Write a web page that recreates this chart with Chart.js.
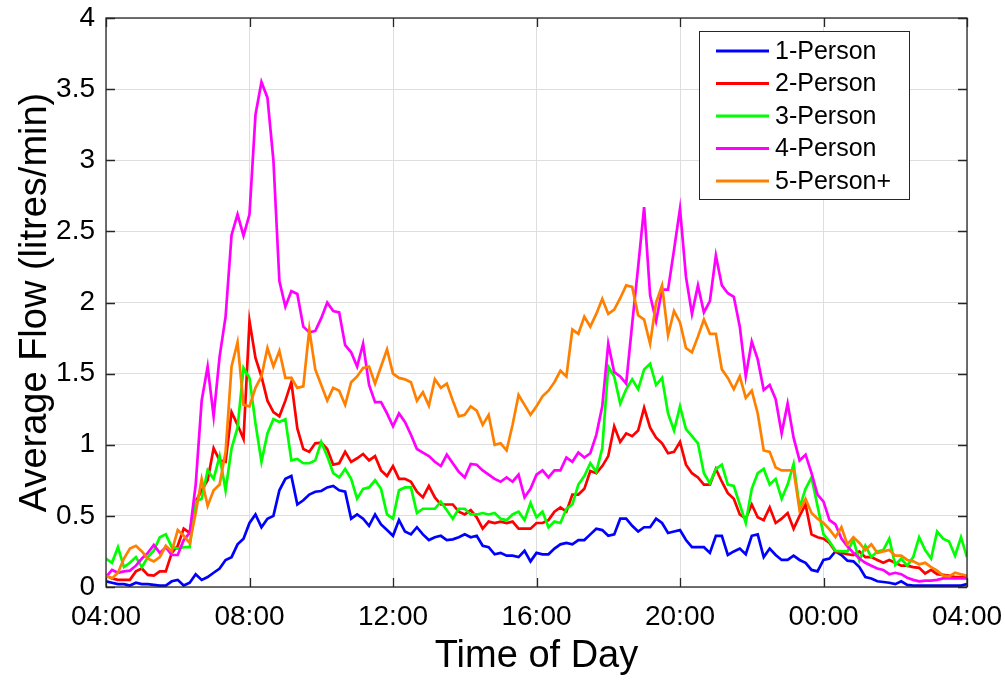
<!DOCTYPE html>
<html>
<head>
<meta charset="utf-8">
<title>Average Flow by Household Size</title>
<script src="https://cdn.jsdelivr.net/npm/chart.js@4.4.0/dist/chart.umd.min.js"></script>
<style>
  html, body { margin: 0; padding: 0; background: #fff; }
  #wrap { width: 1005px; height: 680px; }
</style>
</head>
<body>
<div id="wrap"><canvas id="flowChart" width="1005" height="680"></canvas></div>
<script>
// x tick labels (every 4 hours, starting 04:00)
const tickLabels = ['04:00', '08:00', '12:00', '16:00', '20:00', '00:00', '04:00'];
const seriesNames = ['1-Person', '2-Person', '3-Person', '4-Person', '5-Person+'];
const seriesColors = ['#0000ff', '#ff0000', '#00ff00', '#ff00ff', '#ff8000'];

// 10-minute samples from 04:00 to 04:00 (one row = 2 hours)
const person1 = [
  0.04, 0.03, 0.02, 0.02, 0.01, 0.03, 0.02, 0.02, 0.015, 0.01, 0.01, 0.04,
  0.05, 0.01, 0.03, 0.09, 0.05, 0.07, 0.10, 0.13, 0.19, 0.21, 0.30, 0.34,
  0.45, 0.51, 0.42, 0.48, 0.50, 0.68, 0.76, 0.78, 0.58, 0.61, 0.65, 0.67,
  0.675, 0.70, 0.71, 0.68, 0.67, 0.48, 0.51, 0.48, 0.43, 0.51, 0.44, 0.40,
  0.36, 0.47, 0.39, 0.37, 0.42, 0.37, 0.33, 0.35, 0.36, 0.33, 0.335, 0.35,
  0.37, 0.35, 0.36, 0.29, 0.28, 0.23, 0.24, 0.22, 0.22, 0.21, 0.255, 0.18,
  0.24, 0.23, 0.23, 0.27, 0.30, 0.31, 0.30, 0.33, 0.33, 0.37, 0.41, 0.40,
  0.36, 0.37, 0.48, 0.48, 0.43, 0.39, 0.42, 0.42, 0.48, 0.45, 0.38, 0.39,
  0.40, 0.33, 0.28, 0.28, 0.28, 0.24, 0.36, 0.36, 0.225, 0.25, 0.27, 0.23,
  0.36, 0.37, 0.21, 0.27, 0.225, 0.19, 0.19, 0.22, 0.19, 0.17, 0.12, 0.11,
  0.19, 0.20, 0.25, 0.225, 0.185, 0.18, 0.14, 0.07, 0.06, 0.04, 0.035, 0.03,
  0.02, 0.04, 0.015, 0.01, 0.01, 0.01, 0.01, 0.01, 0.01, 0.01, 0.01, 0.01,
  0.02
];
const person2 = [
  0.08, 0.06, 0.05, 0.05, 0.05, 0.11, 0.13, 0.085, 0.08, 0.11, 0.11, 0.24,
  0.29, 0.41, 0.38, 0.60, 0.68, 0.75, 0.975, 0.89, 0.88, 1.23, 1.14, 1.04,
  1.87, 1.61, 1.48, 1.31, 1.23, 1.20, 1.31, 1.44, 1.115, 0.97, 0.95, 1.01,
  1.015, 0.97, 0.86, 0.87, 0.95, 0.88, 0.905, 0.935, 0.89, 0.92, 0.82, 0.78,
  0.85, 0.76, 0.76, 0.74, 0.67, 0.63, 0.71, 0.63, 0.58, 0.58, 0.58, 0.53,
  0.51, 0.54, 0.49, 0.41, 0.46, 0.45, 0.46, 0.45, 0.46, 0.41, 0.41, 0.41,
  0.45, 0.45, 0.47, 0.53, 0.56, 0.53, 0.65, 0.65, 0.69, 0.815, 0.80, 0.85,
  0.92, 1.13, 1.02, 1.08, 1.06, 1.10, 1.26, 1.12, 1.05, 1.01, 0.94, 0.95,
  1.02, 0.86, 0.80, 0.77, 0.72, 0.72, 0.83, 0.74, 0.66, 0.62, 0.51, 0.48,
  0.58, 0.49, 0.47, 0.56, 0.45, 0.48, 0.52, 0.41, 0.50, 0.58, 0.37, 0.35,
  0.34, 0.31, 0.25, 0.24, 0.23, 0.225, 0.25, 0.21, 0.21, 0.19, 0.17, 0.19,
  0.17, 0.15, 0.15, 0.14, 0.135, 0.095, 0.12, 0.09, 0.085, 0.08, 0.07, 0.07,
  0.07
];
const person3 = [
  0.20, 0.17, 0.28, 0.14, 0.17, 0.21, 0.14, 0.21, 0.255, 0.35, 0.37, 0.28,
  0.27, 0.28, 0.28, 0.60, 0.62, 0.82, 0.76, 0.92, 0.68, 0.975, 1.12, 1.54,
  1.47, 1.15, 0.88, 1.08, 1.18, 1.16, 1.18, 0.89, 0.90, 0.87, 0.87, 0.89,
  1.02, 0.92, 0.80, 0.77, 0.83, 0.76, 0.62, 0.69, 0.70, 0.75, 0.69, 0.51,
  0.48, 0.68, 0.70, 0.70, 0.52, 0.55, 0.55, 0.55, 0.60, 0.54, 0.48, 0.55,
  0.55, 0.51, 0.51, 0.52, 0.51, 0.52, 0.48, 0.47, 0.51, 0.53, 0.47, 0.59,
  0.49, 0.53, 0.42, 0.46, 0.45, 0.55, 0.58, 0.72, 0.78, 0.87, 0.81, 0.975,
  1.55, 1.48, 1.29, 1.39, 1.46, 1.39, 1.53, 1.57, 1.42, 1.47, 1.22, 1.10,
  1.27, 1.11, 1.06, 1.01, 0.80, 0.73, 0.83, 0.86, 0.72, 0.71, 0.58, 0.45,
  0.69, 0.80, 0.83, 0.72, 0.76, 0.62, 0.72, 0.865, 0.56, 0.69, 0.77, 0.57,
  0.37, 0.32, 0.255, 0.25, 0.25, 0.33, 0.185, 0.29, 0.21, 0.25, 0.26, 0.34,
  0.155, 0.20, 0.15, 0.21, 0.35, 0.26, 0.20, 0.39, 0.34, 0.32, 0.22, 0.35,
  0.21
];
const person4 = [
  0.07, 0.12, 0.10, 0.11, 0.115, 0.15, 0.20, 0.24, 0.295, 0.24, 0.28, 0.225,
  0.225, 0.33, 0.38, 0.72, 1.31, 1.55, 1.20, 1.62, 1.90, 2.475, 2.62, 2.47,
  2.62, 3.32, 3.55, 3.44, 3.00, 2.15, 1.97, 2.08, 2.06, 1.83, 1.79, 1.80,
  1.89, 2.00, 1.94, 1.93, 1.70, 1.65, 1.55, 1.71, 1.42, 1.30, 1.30, 1.22,
  1.13, 1.22, 1.16, 1.07, 0.97, 0.945, 0.92, 0.88, 0.85, 0.93, 0.87, 0.81,
  0.77, 0.865, 0.86, 0.82, 0.79, 0.76, 0.74, 0.77, 0.74, 0.79, 0.63, 0.69,
  0.79, 0.82, 0.77, 0.82, 0.82, 0.91, 0.88, 0.945, 0.91, 0.94, 1.07, 1.27,
  1.71, 1.51, 1.48, 1.43, 1.85, 2.25, 2.67, 2.05, 1.87, 2.09, 2.09, 2.37,
  2.66, 2.18, 1.92, 2.12, 1.93, 2.01, 2.33, 2.12, 2.065, 2.04, 1.83, 1.48,
  1.725, 1.60, 1.385, 1.42, 1.32, 1.08, 1.29, 1.05, 0.89, 0.93, 0.80, 0.65,
  0.60, 0.47, 0.44, 0.34, 0.285, 0.24, 0.20, 0.17, 0.15, 0.13, 0.12, 0.09,
  0.10, 0.09, 0.065, 0.05, 0.04, 0.045, 0.045, 0.05, 0.06, 0.06, 0.06, 0.06,
  0.06
];
const person5 = [
  0.08, 0.06, 0.10, 0.20, 0.27, 0.29, 0.25, 0.20, 0.18, 0.21, 0.29, 0.25,
  0.40, 0.36, 0.31, 0.52, 0.76, 0.57, 0.68, 0.72, 0.95, 1.55, 1.72, 1.28,
  1.27, 1.40, 1.48, 1.68, 1.55, 1.66, 1.47, 1.47, 1.40, 1.41, 1.81, 1.53,
  1.42, 1.31, 1.40, 1.38, 1.28, 1.44, 1.48, 1.54, 1.55, 1.43, 1.55, 1.67,
  1.50, 1.47, 1.46, 1.44, 1.31, 1.37, 1.275, 1.46, 1.40, 1.43, 1.31, 1.20,
  1.21, 1.27, 1.24, 1.14, 1.21, 1.00, 1.01, 0.96, 1.14, 1.35, 1.28, 1.21,
  1.27, 1.34, 1.38, 1.44, 1.52, 1.48, 1.81, 1.78, 1.90, 1.83, 1.92, 2.025,
  1.92, 1.95, 2.03, 2.12, 2.11, 1.91, 1.88, 1.71, 2.00, 2.12, 1.77, 1.94,
  1.86, 1.68, 1.65, 1.76, 1.88, 1.78, 1.78, 1.53, 1.47, 1.39, 1.48, 1.33,
  1.38, 1.22, 0.96, 0.95, 0.84, 0.82, 0.82, 0.82, 0.54, 0.62, 0.52, 0.48,
  0.45, 0.405, 0.35, 0.42, 0.30, 0.35, 0.31, 0.26, 0.30, 0.24, 0.25, 0.26,
  0.22, 0.22, 0.19, 0.18, 0.16, 0.17, 0.14, 0.115, 0.08, 0.075, 0.10, 0.09,
  0.08
];

const stepMinutes = 10;
const toPoints = arr => arr.map((v, i) => ({ x: i * stepMinutes, y: v }));
const allSeries = [person1, person2, person3, person4, person5];

const FONT = "'Liberation Sans', Arial, Helvetica, sans-serif";
const AXIS_COLOR = '#262626';

// let layout.padding alone decide the margins round the plot
function noExtraPadding(scale) {
  scale.paddingTop = 0;
  scale.paddingBottom = 0;
  scale.paddingLeft = 0;
  scale.paddingRight = 0;
}

// box round the plot with inward ticks on all four sides
const axesBox = {
  id: 'axesBox',
  afterDatasetsDraw(chart) {
    const { ctx, chartArea: a, scales: { x, y } } = chart;
    const tl = 9;
    ctx.save();
    ctx.strokeStyle = AXIS_COLOR;
    ctx.lineWidth = 1.3;
    ctx.strokeRect(a.left, a.top, a.right - a.left, a.bottom - a.top);
    ctx.beginPath();
    x.ticks.forEach(t => {
      const px = Math.round(x.getPixelForValue(t.value)) + 0.5;
      ctx.moveTo(px, a.bottom); ctx.lineTo(px, a.bottom - tl);
      ctx.moveTo(px, a.top); ctx.lineTo(px, a.top + tl);
    });
    y.ticks.forEach(t => {
      const py = Math.round(y.getPixelForValue(t.value)) + 0.5;
      ctx.moveTo(a.left, py); ctx.lineTo(a.left + tl, py);
      ctx.moveTo(a.right, py); ctx.lineTo(a.right - tl, py);
    });
    ctx.stroke();
    ctx.restore();
  }
};

// MATLAB-like legend box in the upper right of the axes
const legendBox = {
  id: 'legendBox',
  afterDraw(chart) {
    const { ctx, chartArea: a } = chart;
    const w = 210, h = 168;
    const x0 = a.right - 58 - w, y0 = a.top + 13;
    ctx.save();
    ctx.fillStyle = '#fff';
    ctx.fillRect(x0, y0, w, h);
    ctx.strokeStyle = AXIS_COLOR;
    ctx.lineWidth = 1;
    ctx.strokeRect(x0 + 0.5, y0 + 0.5, w, h);
    ctx.font = '25px ' + FONT;
    ctx.textBaseline = 'middle';
    ctx.textAlign = 'left';
    chart.data.datasets.forEach((ds, i) => {
      const cy = y0 + 20 + i * 32.5;
      ctx.strokeStyle = ds.borderColor;
      ctx.lineWidth = 3;
      ctx.beginPath();
      ctx.moveTo(x0 + 17, cy);
      ctx.lineTo(x0 + 70, cy);
      ctx.stroke();
      ctx.fillStyle = '#000';
      ctx.fillText(ds.label, x0 + 76, cy + 1);
    });
    ctx.restore();
  }
};

const ctx = document.getElementById('flowChart').getContext('2d');
new Chart(ctx, {
  type: 'line',
  data: {
    datasets: allSeries.map((arr, i) => ({
      label: seriesNames[i],
      data: toPoints(arr),
      borderColor: seriesColors[i],
      backgroundColor: seriesColors[i],
      borderWidth: 2.7,
      pointRadius: 0,
      tension: 0,
      fill: false,
      order: allSeries.length - i
    }))
  },
  options: {
    responsive: false,
    devicePixelRatio: 1,
    animation: false,
    layout: { padding: { left: 0, right: 38, top: 18, bottom: 0 } },
    plugins: {
      legend: { display: false },
      tooltip: { enabled: false }
    },
    scales: {
      x: {
        type: 'linear',
        min: 0,
        max: 1440,
        afterFit(scale) { scale.height = 93; noExtraPadding(scale); },
        ticks: {
          stepSize: 240,
          autoSkip: false,
          maxRotation: 0,
          padding: 13,
          color: '#000',
          font: { family: FONT, size: 28 },
          callback: v => tickLabels[Math.round(v / 240)]
        },
        grid: { color: '#dedede', lineWidth: 1, drawTicks: false },
        border: { display: false },
        title: {
          display: true,
          text: 'Time of Day',
          color: '#000',
          font: { family: FONT, size: 38 },
          padding: { top: 0, bottom: 1 }
        }
      },
      y: {
        min: 0,
        max: 4,
        afterFit(scale) { scale.width = 106; noExtraPadding(scale); },
        ticks: {
          stepSize: 0.5,
          padding: 11,
          color: '#000',
          font: { family: FONT, size: 28 },
          callback: v => String(v)
        },
        grid: { color: '#dedede', lineWidth: 1, drawTicks: false },
        border: { display: false },
        title: {
          display: true,
          text: 'Average Flow (litres/min)',
          color: '#000',
          font: { family: FONT, size: 38 },
          padding: { top: 13, bottom: 0 }
        }
      }
    }
  },
  plugins: [axesBox, legendBox]
});
</script>
</body>
</html>
